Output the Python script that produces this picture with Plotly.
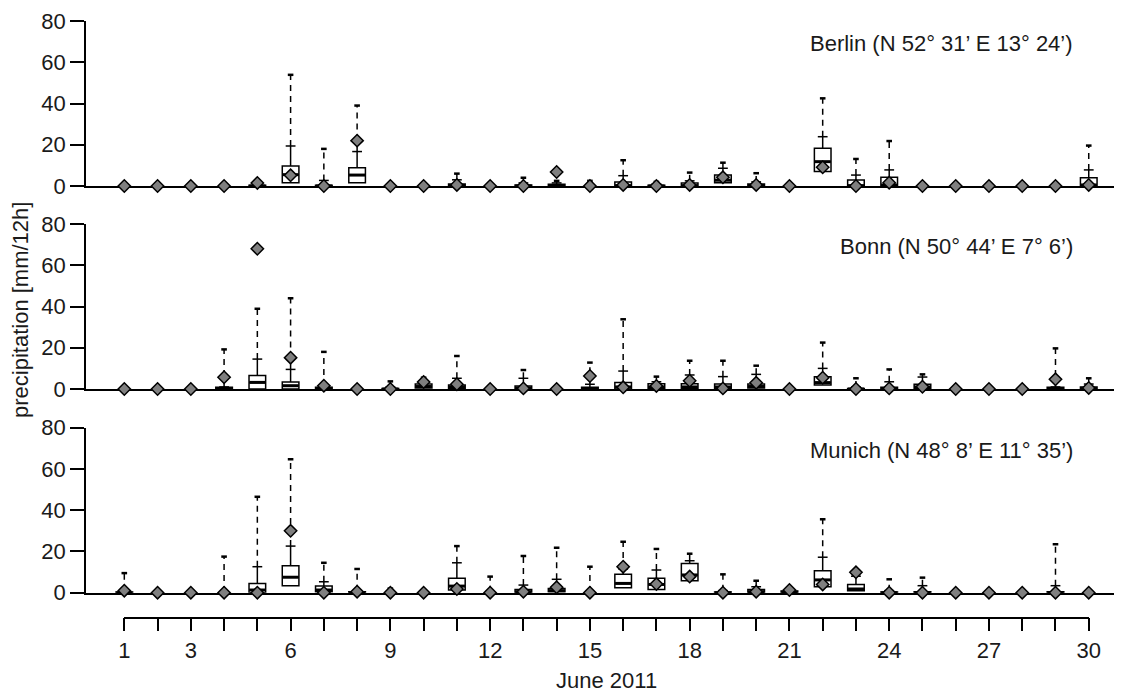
import plotly.graph_objects as go

# ---------------- data ----------------
days = list(range(1, 31))
tick_label_days = [1, 3, 6, 9, 12, 15, 18, 21, 24, 27, 30]
y_ticks = [0, 20, 40, 60, 80]
panel_titles = ["Berlin (N 52° 31’ E 13° 24’)",
                "Bonn (N 50° 44’ E 7° 6’)",
                "Munich (N 48° 8’ E 11° 35’)"]

berlin_obs = [0, 0, 0, 0, 1.5, 5.2, 0, 22, 0, 0, 0.5, 0, 0, 6.8, 0, 0.5, 0, 0.5, 4.2, 0.5, 0, 9.1, 0, 1.6, 0, 0, 0, 0, 0, 0.5]
berlin_q1 = [0, 0, 0, 0, 0, 1.6, 0, 1.6, 0, 0, 0, 0, 0, 0, 0, 0, 0, 0, 1.6, 0, 0, 7, 0, 0, 0, 0, 0, 0, 0, 0]
berlin_med = [0, 0, 0, 0, 0, 5.5, 0, 5.3, 0, 0, 0, 0, 0, 0, 0, 0, 0, 0, 2.8, 0, 0, 11.8, 0, 0.5, 0, 0, 0, 0, 0, 0.5]
berlin_q3 = [0, 0, 0, 0, 0.4, 9.7, 0.4, 8.9, 0, 0, 1, 0, 0.5, 0.8, 0, 2, 0.4, 1.5, 5.3, 1, 0, 18.3, 2.9, 4.2, 0, 0, 0, 0, 0, 4]
berlin_p90 = [0, 0, 0, 0, 0.8, 19.4, 2.7, 16.7, 0, 0, 3, 0, 1.5, 1.5, 0.5, 5, 1, 2.5, 8.6, 2, 0, 23.9, 5.3, 7.8, 0, 0, 0, 0, 0, 7.8]
berlin_max = [0, 0, 0, 0, 1.2, 53.9, 18, 39, 0, 0, 6, 0, 4, 2.5, 2.5, 12.5, 2, 6.5, 11.3, 6.2, 0, 42.5, 13.1, 21.8, 0, 0, 0, 0, 0, 19.6]

bonn_obs = [0, 0, 0, 5.7, 68, 15.2, 1.6, 0, 0, 3.4, 2.3, 0, 0.3, 0, 6.3, 0.8, 1.5, 4, 0.3, 3, 0, 5.5, 0, 0.3, 1.1, 0, 0, 0, 4.7, 0.5]
bonn_q1 = [0, 0, 0, 0, 0, 0, 0, 0, 0, 0.5, 0.3, 0, 0, 0, 0, 0, 0.3, 0.3, 0.2, 0.5, 0, 1.9, 0, 0, 0.2, 0, 0, 0, 0, 0]
bonn_med = [0, 0, 0, 0, 3.2, 1.6, 0.3, 0, 0, 1.2, 1, 0, 0.5, 0, 0, 1, 1, 1, 1, 1.2, 0, 3.1, 0, 0, 1, 0, 0, 0, 0, 0.3]
bonn_q3 = [0, 0, 0, 0.8, 6.6, 3.4, 0.8, 0, 0.3, 2.4, 2, 0, 1.5, 0, 0.8, 3.2, 2.5, 2.5, 2.4, 2.4, 0, 6, 0.3, 0.8, 2.3, 0, 0, 0, 0.8, 1]
bonn_p90 = [0, 0, 0, 1, 14.5, 9.5, 1.5, 0, 1, 4, 5.2, 0, 5.2, 0, 2.3, 8.7, 3.5, 6.8, 6, 7.1, 0, 10, 1, 3.5, 5.8, 0, 0, 0, 1, 2.4]
bonn_max = [0, 0, 0, 19.2, 38.9, 44, 18, 0, 3.7, 5.5, 16, 0, 9.2, 0, 12.8, 33.8, 6, 13.7, 13.7, 11.3, 0, 22.5, 5.2, 9.5, 7.1, 0, 0, 0, 19.7, 5.2]

munich_obs = [1, 0, 0, 0, 0, 30, 0, 0.5, 0, 0, 1.8, 0, 0.5, 2.6, 0, 12.6, 4.2, 7.8, 0, 0.5, 1.3, 4, 9.9, 0, 0, 0, 0, 0, 0, 0]
munich_q1 = [0, 0, 0, 0, 0, 3.4, 0.4, 0, 0, 0, 1.3, 0, 0, 0.4, 0, 2.4, 1.6, 5.8, 0, 0, 0, 2.9, 1, 0, 0, 0, 0, 0, 0, 0]
munich_med = [0, 0, 0, 0, 1.3, 7.5, 1.3, 0, 0, 0, 3.2, 0, 0.5, 1, 0, 4.5, 4, 8.6, 0, 0.5, 0.3, 6.2, 1.8, 0, 0, 0, 0, 0, 0, 0]
munich_q3 = [0.3, 0, 0, 0, 4.5, 13.1, 3.2, 0.4, 0, 0, 7, 0, 1.5, 2, 0, 8.9, 7, 14.2, 0.3, 1.5, 0.8, 10.7, 4, 0.3, 0.5, 0, 0, 0, 0.5, 0]
munich_p90 = [1, 0, 0, 0.3, 12.6, 22.6, 5.3, 1, 0.5, 0, 14.5, 0.5, 3.7, 6.5, 0.3, 11.5, 11, 15.5, 1, 2.9, 1, 17.2, 8, 1, 3.4, 0, 0, 0, 3.4, 0]
munich_max = [9.5, 0, 0, 17.5, 46.5, 64.7, 14.5, 11.5, 2, 0, 22.6, 7.8, 17.8, 21.8, 12.6, 24.7, 21.2, 18.9, 8.9, 5.8, 1.5, 35.6, 8, 6.5, 7.3, 0, 0, 0, 23.5, 0]

panels = [
    (berlin_obs, berlin_q1, berlin_med, berlin_q3, berlin_p90, berlin_max),
    (bonn_obs, bonn_q1, bonn_med, bonn_q3, bonn_p90, bonn_max),
    (munich_obs, munich_q1, munich_med, munich_q3, munich_p90, munich_max),
]

# ---------------- layout geometry (screen pixels) ----------------
VIEW_W, VIEW_H = 1122, 693
OFF = 8                      # page body margin
W, H = VIEW_W - OFF, VIEW_H - OFF
FONT = "Liberation Sans, Arial, sans-serif"
FS = 22
x_left_px, x_right_px = 86, 1122
x_range = [-0.152, 31.0]
zero_px = [186, 389, 592.7]
panel_h = 165
bottom_axis_px = 617.7


def px_x(p):
    return (p - OFF) / W


def px_y(p):
    return 1 - (p - OFF) / H


def day_to_paper(d):
    f = (d - x_range[0]) / (x_range[1] - x_range[0])
    return px_x(x_left_px) + f * (px_x(x_right_px) - px_x(x_left_px))


fig = go.Figure()
line_w = 1.5

for i, (obs, q1, med, q3, p90, vmax) in enumerate(panels):
    xa = "x" if i == 0 else f"x{i + 1}"
    ya = "y" if i == 0 else f"y{i + 1}"
    idx = [k for k in range(len(days)) if q3[k] > 0]
    bx = [days[k] for k in idx]
    fig.add_trace(go.Box(
        x=bx, q1=[q1[k] for k in idx], median=[med[k] for k in idx],
        q3=[q3[k] for k in idx], lowerfence=[q1[k] for k in idx],
        upperfence=[q3[k] for k in idx], width=0.5, whiskerwidth=0,
        fillcolor="white", line=dict(color="black", width=line_w),
        boxpoints=False, hoverinfo="skip", showlegend=False,
        xaxis=xa, yaxis=ya))
    # solid whisker q3 -> p90
    wx, wy = [], []
    for k in range(len(days)):
        if p90[k] > q3[k]:
            wx += [days[k], days[k], None]
            wy += [q3[k], p90[k], None]
    fig.add_trace(go.Scatter(x=wx, y=wy, mode="lines",
                             line=dict(color="black", width=line_w),
                             hoverinfo="skip", showlegend=False, xaxis=xa, yaxis=ya))
    # dashed p90 -> max
    dx, dy = [], []
    for k in range(len(days)):
        if vmax[k] > p90[k]:
            dx += [days[k], days[k], None]
            dy += [p90[k], vmax[k], None]
    fig.add_trace(go.Scatter(x=dx, y=dy, mode="lines",
                             line=dict(color="black", width=line_w, dash="6px,5px"),
                             hoverinfo="skip", showlegend=False, xaxis=xa, yaxis=ya))
    # p90 crossbar
    px_ = [days[k] for k in range(len(days)) if p90[k] > q3[k]]
    py_ = [p90[k] for k in range(len(days)) if p90[k] > q3[k]]
    fig.add_trace(go.Scatter(x=px_, y=py_, mode="markers",
                             marker=dict(symbol="line-ew", size=7,
                                         line=dict(color="black", width=line_w)),
                             hoverinfo="skip", showlegend=False, xaxis=xa, yaxis=ya, cliponaxis=False))
    # max cap
    mx = [days[k] for k in range(len(days)) if vmax[k] > p90[k]]
    my = [vmax[k] for k in range(len(days)) if vmax[k] > p90[k]]
    fig.add_trace(go.Scatter(x=mx, y=my, mode="markers",
                             marker=dict(symbol="line-ew", size=4,
                                         line=dict(color="black", width=2.5)),
                             hoverinfo="skip", showlegend=False, xaxis=xa, yaxis=ya, cliponaxis=False))
    # thick median
    fig.add_trace(go.Scatter(x=bx, y=[med[k] for k in idx], mode="markers",
                             marker=dict(symbol="line-ew", size=11.5,
                                         line=dict(color="black", width=3)),
                             hoverinfo="skip", showlegend=False, xaxis=xa, yaxis=ya, cliponaxis=False))
    # observations
    fig.add_trace(go.Scatter(x=days, y=obs, mode="markers",
                             marker=dict(symbol="diamond", size=9.5, color="#7f7f7f",
                                         line=dict(color="black", width=1.5)),
                             hoverinfo="skip", showlegend=False, xaxis=xa, yaxis=ya, cliponaxis=False))

    y_dom = [px_y(zero_px[i]), px_y(zero_px[i] - panel_h)]
    fig.update_layout(**{
        ("xaxis" if i == 0 else f"xaxis{i + 1}"): dict(
            domain=[px_x(x_left_px), min(1.0, px_x(x_right_px))], range=x_range, anchor=ya,
            showline=True, linecolor="black", linewidth=line_w, showgrid=False,
            zeroline=False, showticklabels=False, ticks="", layer="below traces",
            automargin=False),
        ("yaxis" if i == 0 else f"yaxis{i + 1}"): dict(
            domain=y_dom, range=[0, 80], anchor=xa, tickvals=y_ticks,
            showline=True, linecolor="black", linewidth=line_w, showgrid=False,
            zeroline=False, ticks="outside", ticklen=14, tickwidth=line_w,
            tickcolor="black", tickfont=dict(size=FS, color="#1a1a1a", family=FONT),
            layer="below traces", automargin=False),
    })
    fig.add_annotation(text=panel_titles[i], xref="paper", yref="paper",
                       x=px_x(1075), y=px_y(zero_px[i] - 142), xanchor="right",
                       yanchor="middle", showarrow=False,
                       font=dict(size=FS, color="#1a1a1a", family=FONT))

# bottom date axis
fig.add_trace(go.Scatter(x=[None], y=[None], xaxis="x4", yaxis="y4",
                         showlegend=False, hoverinfo="skip"))
fig.update_layout(
    xaxis4=dict(domain=[day_to_paper(days[0]), day_to_paper(days[-1])],
                range=[days[0], days[-1]], anchor="free", position=px_y(bottom_axis_px),
                tickvals=days,
                ticktext=[str(d) if d in tick_label_days else "" for d in days],
                ticks="outside", ticklen=13, tickwidth=line_w, tickcolor="black",
                showline=True, linecolor="black", linewidth=line_w, showgrid=False,
                zeroline=False, tickfont=dict(size=FS, color="#1a1a1a", family=FONT),
                automargin=False),
    yaxis4=dict(domain=[0, 0.05], anchor="x4", visible=False, automargin=False),
)
fig.add_annotation(text="June 2011", xref="paper", yref="paper",
                   x=(day_to_paper(days[0]) + day_to_paper(days[-1])) / 2, y=px_y(680),
                   xanchor="center", yanchor="middle", showarrow=False,
                   font=dict(size=FS, color="#1a1a1a", family=FONT))
fig.add_annotation(text="precipitation [mm/12h]", xref="paper", yref="paper",
                   x=px_x(20), y=px_y(310), textangle=-90, xanchor="center",
                   yanchor="middle", showarrow=False,
                   font=dict(size=FS, color="#1a1a1a", family=FONT))

fig.update_layout(width=W, height=H, margin=dict(l=0, r=0, t=0, b=0),
                  template="none",
                  paper_bgcolor="white", plot_bgcolor="white",
                  font=dict(family=FONT, color="#1a1a1a"))

fig.write_html("out.html")
